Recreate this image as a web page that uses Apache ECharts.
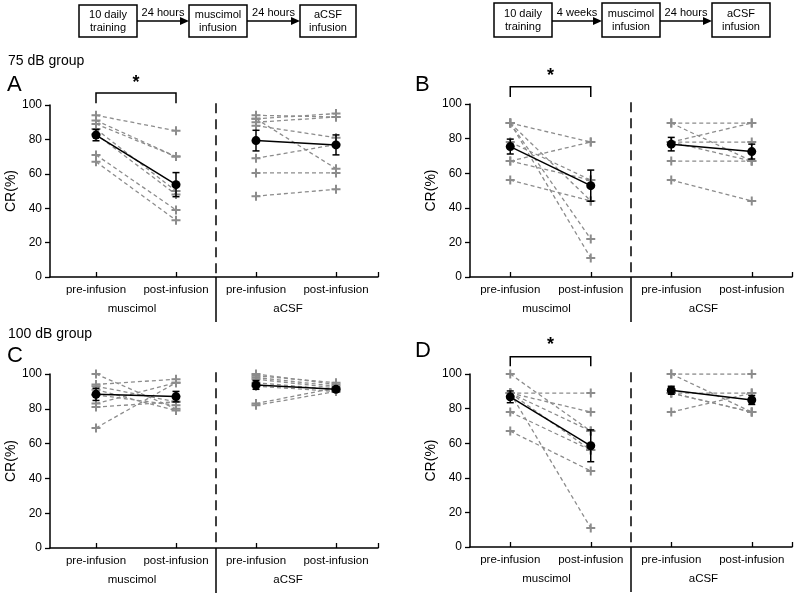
<!DOCTYPE html>
<html><head><meta charset="utf-8">
<script src="https://cdn.jsdelivr.net/npm/echarts@6/dist/echarts.min.js"></script>
<style>html,body{margin:0;padding:0;background:#fff}#c{width:796px;height:596px}</style>
</head><body><div id="c"></div>
<script>
// ---------- data ----------
const xTickLabels = ['pre-infusion', 'post-infusion', 'pre-infusion', 'post-infusion'];
const groupLabels = ['muscimol', 'aCSF'];
const panelLetters = ['A', 'B', 'C', 'D'];
const groupTitles = ['75 dB group', '100 dB group'];

// Panel A (75 dB, 24 hours)
const A_muscPre  = [94, 91, 89, 86, 83, 71, 67];
const A_muscPost = [85, 70, 70, 50, 48, 39, 33];
const A_acsfPre  = [94, 92, 90, 88, 92, 69, 60.5, 47];
const A_acsfPost = [93, 95, 93, 81, 63, 77, 60.5, 51];
const A_meanMusc = [82.5, 53.7], A_semMusc = [3.3, 7.0];
const A_meanAcsf = [79.3, 76.8], A_semAcsf = [6.0, 5.8];

// Panel B (75 dB, 4 weeks)
const B_muscPre  = [89, 89, 89, 89, 78, 67, 67, 56];
const B_muscPost = [78, 44, 22, 11, 56, 78, 56, 44];
const B_acsfPre  = [89, 89, 78, 78, 78, 67, 56];
const B_acsfPost = [89, 67, 89, 78, 67, 67, 44];
const B_meanMusc = [75.4, 52.8], B_semMusc = [4.3, 9.0];
const B_meanAcsf = [76.8, 72.5], B_semAcsf = [3.9, 4.3];

// Panel C (100 dB, 24 hours)
const C_muscPre  = [100, 94, 93, 91, 88, 83, 81, 69];
const C_muscPost = [80, 97, 84, 79, 82, 95, 84, 95];
const C_acsfPre  = [100, 99, 98, 97, 95, 93, 83, 82];
const C_acsfPost = [94, 95, 93, 92, 91, 90, 92, 90];
const C_meanMusc = [88.3, 87.0], C_semMusc = [3.5, 3.0];
const C_meanAcsf = [93.7, 91.2], C_semAcsf = [2.5, 1.5];

// Panel D (100 dB, 4 weeks)
const D_muscPre  = [100, 89, 89, 89, 89, 89, 78, 67];
const D_muscPost = [67, 89, 78, 67, 56, 11, 56, 44];
const D_acsfPre  = [100, 100, 89, 89, 89, 78];
const D_acsfPost = [100, 78, 89, 78, 78, 89];
const D_meanMusc = [86.8, 58.5], D_semMusc = [3.4, 9.2];
const D_meanAcsf = [90.6, 85.0], D_semAcsf = [2.3, 2.6];

// ---------- layout ----------
const FONT = "'Liberation Sans', Arial, Helvetica, sans-serif";
const GRAY = '#8c8c8c';
const PLUS = 'path://M3.5,0H5.5V3.5H9V5.5H5.5V9H3.5V5.5H0V3.5H3.5Z';

const panels = [
  { grid: {left: 50, top: 105, width: 328, height: 172}, xmin: 0.425, xmax: 4.525,
    musc: [A_muscPre, A_muscPost], acsf: [A_acsfPre, A_acsfPost],
    mm: A_meanMusc, sm: A_semMusc, ma: A_meanAcsf, sa: A_semAcsf, sig: [107, 101, 112.5] },
  { grid: {left: 470, top: 104, width: 322, height: 173}, xmin: 0.5, xmax: 4.5,
    musc: [B_muscPre, B_muscPost], acsf: [B_acsfPre, B_acsfPost],
    mm: B_meanMusc, sm: B_semMusc, ma: B_meanAcsf, sa: B_semAcsf, sig: [110, 104, 116] },
  { grid: {left: 50, top: 374, width: 328, height: 174}, xmin: 0.425, xmax: 4.525,
    musc: [C_muscPre, C_muscPost], acsf: [C_acsfPre, C_acsfPost],
    mm: C_meanMusc, sm: C_semMusc, ma: C_meanAcsf, sa: C_semAcsf, sig: null },
  { grid: {left: 470, top: 374, width: 322, height: 173}, xmin: 0.5, xmax: 4.5,
    musc: [D_muscPre, D_muscPost], acsf: [D_acsfPre, D_acsfPost],
    mm: D_meanMusc, sm: D_semMusc, ma: D_meanAcsf, sa: D_semAcsf, sig: [110, 104.5, 116.5] }
];

const grids = [], xAxes = [], yAxes = [], series = [];

function renderErr(params, api) {
  const x = api.value(0), m = api.value(1), s = api.value(2);
  const t = api.coord([x, m + s]), b = api.coord([x, m - s]);
  const w = 3.5, st = {stroke: '#000', lineWidth: 1.5};
  return {type: 'group', children: [
    {type: 'line', shape: {x1: t[0], y1: t[1], x2: b[0], y2: b[1]}, style: st},
    {type: 'line', shape: {x1: t[0] - w, y1: t[1], x2: t[0] + w, y2: t[1]}, style: st},
    {type: 'line', shape: {x1: b[0] - w, y1: b[1], x2: b[0] + w, y2: b[1]}, style: st}
  ]};
}
function renderDivider(params, api) {
  const top = api.coord([api.value(0), api.value(1)]);
  const bot = api.coord([api.value(0), 0]);
  return {type: 'group', children: [
    {type: 'line', shape: {x1: top[0], y1: top[1], x2: bot[0], y2: bot[1]},
     style: {stroke: '#000', lineWidth: 1.5, lineDash: [10, 6]}},
    {type: 'line', shape: {x1: bot[0], y1: bot[1], x2: bot[0], y2: bot[1] + 45},
     style: {stroke: '#000', lineWidth: 1.5}}
  ]};
}
function renderBracket(params, api) {
  const x1 = api.value(0), x2 = api.value(1), t = api.value(2), f = api.value(3), s = api.value(4);
  const p1 = api.coord([x1, f]), p2 = api.coord([x1, t]), p3 = api.coord([x2, t]), p4 = api.coord([x2, f]);
  const ps = api.coord([(x1 + x2) / 2, s]);
  return {type: 'group', children: [
    {type: 'polyline', shape: {points: [p1, p2, p3, p4]}, style: {stroke: '#000', lineWidth: 1.5, fill: null}},
    {type: 'text', x: ps[0], y: ps[1], style: {text: '*', fontSize: 18, fontWeight: 'bold', fill: '#000',
      align: 'center', verticalAlign: 'middle', fontFamily: FONT}}
  ]};
}

panels.forEach((p, i) => {
  grids.push(p.grid);
  xAxes.push({
    gridIndex: i, type: 'value', min: p.xmin, max: p.xmax, position: 'bottom',
    axisLine: {show: true, onZero: false, lineStyle: {color: '#000', width: 1.5}},
    axisTick: {show: true, inside: true, length: 5, customValues: [1, 2, 3, 4, p.xmax],
      lineStyle: {color: '#000', width: 1.3}},
    axisLabel: {customValues: [1, 2, 3, 4], formatter: v => xTickLabels[Math.round(v) - 1],
      color: '#000', fontSize: 11.5, fontFamily: FONT, margin: 7},
    splitLine: {show: false}
  });
  xAxes.push({
    gridIndex: i, type: 'value', min: p.xmin, max: p.xmax, position: 'bottom', offset: 0,
    axisLine: {show: false}, axisTick: {show: false}, splitLine: {show: false},
    axisLabel: {customValues: [1.45, 3.4], formatter: v => (v < 2.5 ? groupLabels[0] : groupLabels[1]),
      color: '#000', fontSize: 11.5, fontFamily: FONT, margin: 26}
  });
  yAxes.push({
    gridIndex: i, type: 'value', min: 0, max: 100, interval: 20,
    axisLine: {show: true, lineStyle: {color: '#000', width: 1.5}},
    axisTick: {show: true, length: 5, lineStyle: {color: '#000', width: 1.3}},
    axisLabel: {color: '#000', fontSize: 12, fontFamily: FONT, margin: 8},
    splitLine: {show: false},
    name: 'CR(%)', nameLocation: 'middle', nameGap: 31,
    nameTextStyle: {color: '#000', fontSize: 14, fontFamily: FONT}
  });
  const xi = 2 * i, yi = i;
  const gray = (data) => ({
    type: 'line', xAxisIndex: xi, yAxisIndex: yi, data, silent: true, z: 2,
    symbol: PLUS, symbolSize: 9, showSymbol: true,
    itemStyle: {color: GRAY}, lineStyle: {color: GRAY, width: 1.3, type: [4, 3]}
  });
  p.musc[0].forEach((v, k) => series.push(gray([[1, v], [2, p.musc[1][k]]])));
  p.acsf[0].forEach((v, k) => series.push(gray([[3, v], [4, p.acsf[1][k]]])));
  series.push({type: 'custom', xAxisIndex: xi, yAxisIndex: yi, clip: false, z: 4, silent: true,
    renderItem: renderErr,
    data: [[1, p.mm[0], p.sm[0]], [2, p.mm[1], p.sm[1]], [3, p.ma[0], p.sa[0]], [4, p.ma[1], p.sa[1]]]});
  [[[1, p.mm[0]], [2, p.mm[1]]], [[3, p.ma[0]], [4, p.ma[1]]]].forEach(d => series.push({
    type: 'line', xAxisIndex: xi, yAxisIndex: yi, data: d, silent: true, z: 5,
    symbol: 'circle', symbolSize: 9, itemStyle: {color: '#000'}, lineStyle: {color: '#000', width: 1.5}
  }));
  series.push({type: 'custom', xAxisIndex: xi, yAxisIndex: yi, clip: false, z: 3, silent: true,
    renderItem: renderDivider, data: [[2.5, 101]]});
  if (p.sig) {
    series.push({type: 'custom', xAxisIndex: xi, yAxisIndex: yi, clip: false, z: 3, silent: true,
      renderItem: renderBracket, encode: {x: [0, 1], y: [2, 3, 4]},
      data: [[1, 2, p.sig[0], p.sig[1], p.sig[2]]]});
  }
});

// flowchart graphics
function box(x, y, w, h, lines) {
  return [
    {type: 'rect', shape: {x, y, width: w, height: h}, style: {fill: '#fff', stroke: '#000', lineWidth: 1.5}},
    {type: 'text', x: x + w / 2, y: y + h / 2, style: {text: lines, fontSize: 11, lineHeight: 13,
      fontFamily: FONT, fill: '#000', align: 'center', verticalAlign: 'middle'}}
  ];
}
function arrow(x1, x2, y, label) {
  return [
    {type: 'line', shape: {x1, y1: y, x2: x2 - 7, y2: y}, style: {stroke: '#000', lineWidth: 1.5}},
    {type: 'polygon', shape: {points: [[x2 - 9, y - 4], [x2, y], [x2 - 9, y + 4]]}, style: {fill: '#000'}},
    {type: 'text', x: (x1 + x2) / 2, y: y - 8, style: {text: label, fontSize: 11, fontFamily: FONT,
      fill: '#000', align: 'center', verticalAlign: 'middle'}}
  ];
}
const graphics = [].concat(
  box(79, 5, 58, 32, '10 daily\ntraining'), arrow(137, 189, 21, '24 hours'),
  box(189, 5, 58, 32, 'muscimol\ninfusion'), arrow(247, 300, 21, '24 hours'),
  box(300, 5, 56, 32, 'aCSF\ninfusion'),
  box(494, 3, 58, 34, '10 daily\ntraining'), arrow(552, 602, 21, '4 weeks'),
  box(602, 3, 58, 34, 'muscimol\ninfusion'), arrow(660, 712, 21, '24 hours'),
  box(712, 3, 58, 34, 'aCSF\ninfusion'),
  [
    {type: 'text', left: 8, top: 54, style: {text: groupTitles[0], fontSize: 14, fontFamily: FONT, fill: '#000'}},
    {type: 'text', left: 8, top: 327, style: {text: groupTitles[1], fontSize: 14, fontFamily: FONT, fill: '#000'}},
    {type: 'text', left: 7, top: 74, style: {text: panelLetters[0], fontSize: 22, fontFamily: FONT, fill: '#000'}},
    {type: 'text', left: 415, top: 74, style: {text: panelLetters[1], fontSize: 22, fontFamily: FONT, fill: '#000'}},
    {type: 'text', left: 7, top: 345, style: {text: panelLetters[2], fontSize: 22, fontFamily: FONT, fill: '#000'}},
    {type: 'text', left: 415, top: 340, style: {text: panelLetters[3], fontSize: 22, fontFamily: FONT, fill: '#000'}}
  ]
);

const chart = echarts.init(document.getElementById('c'));
chart.setOption({
  animation: false,
  backgroundColor: '#fff',
  textStyle: {fontFamily: FONT},
  grid: grids, xAxis: xAxes, yAxis: yAxes, series,
  graphic: graphics
});
</script></body></html>
